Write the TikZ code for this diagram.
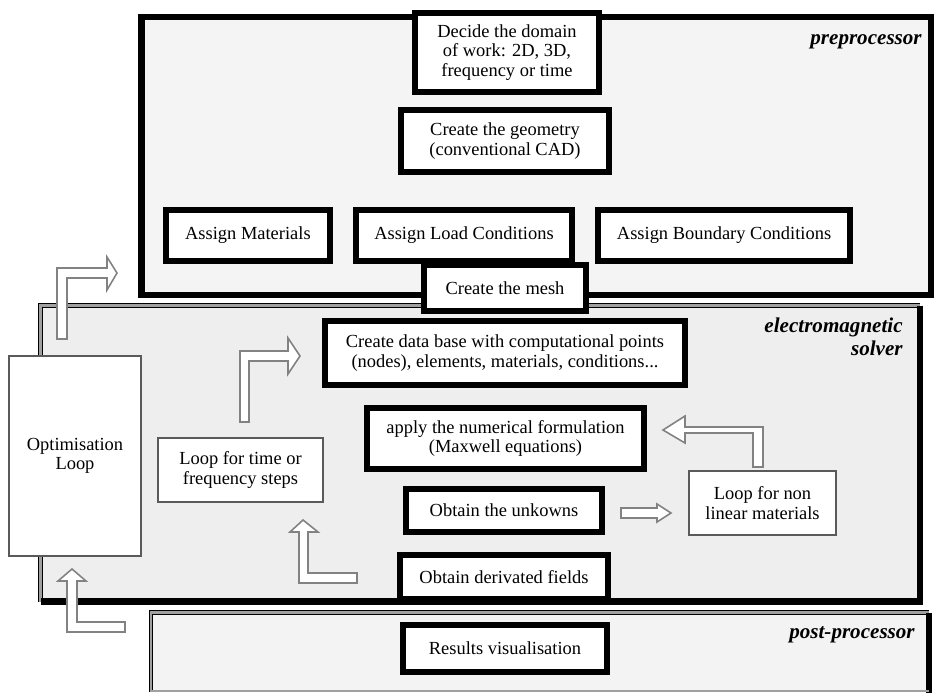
\documentclass[tikz,border=0pt]{standalone}
\usepackage{fontspec}
\setmainfont{Liberation Serif}
\usepackage{tikz}
\usetikzlibrary{positioning}
\definecolor{preFill}{RGB}{244, 244, 244}
\definecolor{solverFill}{RGB}{238, 238, 238}
\definecolor{postFill}{RGB}{243, 243, 243}
\definecolor{rimGray}{RGB}{160, 160, 160}
\definecolor{arrowLine}{RGB}{130, 130, 130}
\definecolor{loopLine}{RGB}{90, 90, 90}
\tikzset{
    stage_box/.style={
        draw=black,
        line width=3.2pt,
        fill=white,
        align=center,
        inner sep=2pt,
        font=\fontsize{10.5}{11}\selectfont
    },
    loop_box/.style={
        draw=loopLine,
        line width=1.1pt,
        fill=white,
        align=center,
        inner sep=2pt,
        font=\fontsize{10.5}{11}\selectfont
    },
    thick_rim/.style={
        draw=black,
        line width=3.6pt
    },
    thin_rim/.style={
        draw=black,
        line width=0.7pt,
        double=rimGray,
        double distance=1.2pt
    },
    block_arrow/.style={
        draw=arrowLine,
        fill=white,
        line width=0.9pt,
        line join=miter
    },
    panel_tag/.style={
        font=\fontsize{12}{13}\selectfont\bfseries\itshape,
        align=right,
        inner sep=0pt
    }
}

\begin{document}
\begin{tikzpicture}[x=0.02cm, y=-0.02cm]
    \useasboundingbox (0,0) rectangle (936,694);

    % the three panels
    \fill[preFill] (141.5,17) rectangle (931,295);
    \draw[thick_rim] (141.5,17) rectangle (931,295);
    \fill[solverFill] (40.5,305.5) rectangle (920,601.5);
    \draw[thin_rim] (40.5,601.5) |- (920,305.5);
    \draw[thick_rim] (920,305.5) |- (40.5,601.5);
    \fill[postFill] (151,612.5) rectangle (929,691);
    \draw[thin_rim] (151,692) |- (929,612.5);
    \draw[thick_rim] (929,612.5) -- (929,693);
    \draw[rimGray, line width=0.6pt] (151,691) -- (929,691);

    \node[panel_tag, anchor=base east] (pretag) at (922,44) {preprocessor};
    \node[panel_tag, anchor=north east] (soltag) at (903,318) {electromagnetic\\solver};
    \node[panel_tag, anchor=base east] (posttag) at (915,638) {post-processor};

    % main steps
    \node[stage_box, minimum width=3.68cm, minimum height=1.58cm] (domain) at (507,52.5)
        {Decide the domain\\of work: 2D, 3D,\\frequency or time};
    \node[stage_box, minimum width=4.16cm, minimum height=1.24cm] (geometry) at (505,141)
        {Create the geometry\\(conventional CAD)};
    \node[stage_box, minimum width=4.32cm, minimum height=1.02cm] (load) at (464,235.5)
        {Assign Load Conditions};
    \node[stage_box, minimum width=3.28cm, minimum height=1.02cm, left=0.41cm of load] (materials)
        {Assign Materials};
    \node[stage_box, minimum width=5.04cm, minimum height=1.02cm, right=0.41cm of load] (boundary)
        {Assign Boundary Conditions};
    \node[stage_box, minimum width=3.24cm, minimum height=0.92cm] (mesh) at (505,288)
        {Create the mesh};
    \node[stage_box, minimum width=7.2cm, minimum height=1.28cm] (database) at (505,353)
        {Create data base with computational points\\(nodes), elements, materials, conditions...};
    \node[stage_box, minimum width=5.54cm, minimum height=1.22cm] (formulation) at (505.5,438.5)
        {apply the numerical formulation\\(Maxwell equations)};
    \node[stage_box, minimum width=3.92cm, minimum height=0.86cm] (unknowns) at (504,510.5)
        {Obtain the unkowns};
    \node[stage_box, minimum width=4.16cm, minimum height=0.88cm] (derived) at (504,577)
        {Obtain derivated fields};
    \node[stage_box, minimum width=4.08cm, minimum height=0.94cm] (results) at (505,648.5)
        {Results visualisation};

    % loops
    \node[loop_box, minimum width=2.64cm, minimum height=4cm] (optim) at (75,456)
        {Optimisation\\Loop};
    \node[loop_box, minimum width=3.3cm, minimum height=1.28cm] (timeloop) at (240.5,470)
        {Loop for time or\\frequency steps};
    \node[loop_box, minimum width=2.94cm, minimum height=1.28cm] (nonlinloop) at (762.5,503)
        {Loop for non\\linear materials};

    % hollow arrows
    \draw[block_arrow] (57,339) -- (57,268) -- (107,268) -- (107,257) -- (117,273)
        -- (107,290) -- (107,278) -- (67,278) -- (67,339) -- cycle;
    \draw[block_arrow] (125,622) -- (77,622) -- (77,581) -- (86,581) -- (72,569)
        -- (58,581) -- (67,581) -- (67,632) -- (125,632) -- cycle;
    \draw[block_arrow] (240,422) -- (240,351) -- (288,351) -- (288,338) -- (300,356)
        -- (288,374) -- (288,361) -- (249,361) -- (249,422) -- cycle;
    \draw[block_arrow] (357,573) -- (308,573) -- (308,532) -- (318,532) -- (303,520)
        -- (290,532) -- (299,532) -- (299,583) -- (357,583) -- cycle;
    \draw[block_arrow] (621,508) -- (657,508) -- (657,504) -- (671,513) -- (657,522)
        -- (657,518) -- (621,518) -- cycle;
    \draw[block_arrow] (763,467) -- (763,427) -- (685,427) -- (685,416) -- (663,430)
        -- (685,443) -- (685,433) -- (753,433) -- (753,467) -- cycle;
\end{tikzpicture}
\end{document}
